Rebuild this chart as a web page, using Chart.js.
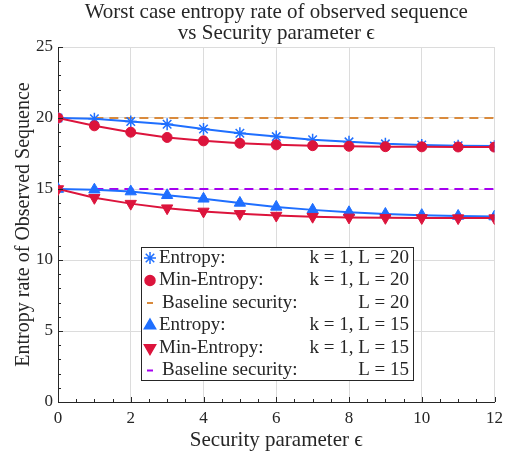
<!DOCTYPE html>
<html>
<head>
<meta charset="utf-8">
<script src="https://cdn.jsdelivr.net/npm/chart.js@4.4.1/dist/chart.umd.min.js"></script>
<style>
  html, body { margin: 0; padding: 0; background: #fff; }
  #wrap { width: 509px; height: 456px; }
</style>
</head>
<body>
<div id="wrap"><canvas id="entropyChart" width="509" height="456"></canvas></div>
<script>
// values
const eps = [0, 1, 2, 3, 4, 5, 6, 7, 8, 9, 10, 11, 12];
const entropy20 = [20, 19.95, 19.75, 19.56, 19.22, 18.93, 18.69, 18.47, 18.32, 18.18, 18.10, 18.05, 18.02];
const minEntropy20 = [20, 19.45, 19.0, 18.63, 18.39, 18.22, 18.11, 18.05, 18.01, 17.98, 17.97, 17.96, 17.95];
const baseline20 = [null, 20, 20, 20, 20, 20, 20, 20, 20, 20, 20, 20, 20];
const entropy15 = [15, 14.95, 14.82, 14.56, 14.31, 14.02, 13.74, 13.53, 13.36, 13.24, 13.16, 13.10, 13.06];
const minEntropy15 = [15, 14.38, 13.97, 13.65, 13.42, 13.25, 13.13, 13.05, 13.0, 12.97, 12.96, 12.95, 12.95];
const baseline15 = [null, 15, 15, 15, 15, 15, 15, 15, 15, 15, 15, 15, 15];

const legendNames = ['Entropy:', 'Min-Entropy:', 'Baseline security:', 'Entropy:', 'Min-Entropy:', 'Baseline security:'];
const legendParams = ['k = 1, L = 20', 'k = 1, L = 20', 'L = 20', 'k = 1, L = 15', 'k = 1, L = 15', 'L = 15'];

const titleLines = ['Worst case entropy rate of observed sequence', 'vs Security parameter \u03F5'];
const xTitle = 'Security parameter \u03F5';
const yTitle = 'Entropy rate of Observed Sequence';

const BLUE = '#1f6fff';
const RED = '#dc143c';
const ORANGE = '#d98a3c';
const PURPLE = '#a600f0';
const TEXT = '#262626';
const SERIF = '"Liberation Serif", "DejaVu Serif", serif';

function pts(ys) {
    return eps.map((x, i) => ({ x: x, y: ys[i] }));
}

// legend entries, in the same order as legendNames
const legendStyle = [
    { type: 'point', style: 'star', color: BLUE, r: 6 },
    { type: 'point', style: 'circle', color: RED, r: 5 },
    { type: 'dash', color: ORANGE },
    { type: 'point', style: 'triangle', color: BLUE, r: 6.5, rot: 0 },
    { type: 'point', style: 'triangle', color: RED, r: 6.5, rot: 180 },
    { type: 'dash', color: PURPLE }
];

// title centred over the plot area (not the whole canvas)
const plotTitle = {
    id: 'plotTitle',
    afterDraw(chart) {
        const ctx = chart.ctx;
        const cx = (chart.chartArea.left + chart.chartArea.right) / 2;
        ctx.save();
        ctx.font = '21px ' + SERIF;
        ctx.fillStyle = TEXT;
        ctx.textAlign = 'center';
        ctx.textBaseline = 'alphabetic';
        ctx.fillText(titleLines[0], cx, 18);
        ctx.fillText(titleLines[1], cx, 39);
        ctx.restore();
    }
};

// inward major/minor ticks like the original figure
const innerTicks = {
    id: 'innerTicks',
    afterDatasetsDraw(chart) {
        const ctx = chart.ctx;
        const xs = chart.scales.x, ys = chart.scales.y;
        const bottom = chart.chartArea.bottom, left = chart.chartArea.left;
        ctx.save();
        ctx.strokeStyle = TEXT;
        ctx.lineWidth = 1;
        ctx.beginPath();
        for (let v = 0; v <= 12; v += 0.5) {
            const px = Math.round(xs.getPixelForValue(v)) + 0.5;
            const len = (v % 2 === 0) ? 5 : 3;
            ctx.moveTo(px, bottom);
            ctx.lineTo(px, bottom - len);
        }
        for (let v = 0; v <= 25; v += 1) {
            const py = Math.round(ys.getPixelForValue(v)) + 0.5;
            const len = (v % 5 === 0) ? 5 : 3;
            ctx.moveTo(left, py);
            ctx.lineTo(left + len, py);
        }
        ctx.stroke();
        ctx.restore();
    }
};

// boxed legend with two text columns
const boxLegend = {
    id: 'boxLegend',
    afterDraw(chart) {
        const ctx = chart.ctx;
        const bx = 141, by = 247, bw = 272, bh = 133;
        const rowH = 22.5, row0 = by + 11;
        ctx.save();
        ctx.fillStyle = '#fff';
        ctx.fillRect(bx, by, bw, bh);
        ctx.strokeStyle = TEXT;
        ctx.lineWidth = 1;
        ctx.strokeRect(bx + 0.5, by + 0.5, bw, bh);
        ctx.font = '19px ' + SERIF;
        ctx.textBaseline = 'middle';
        for (let i = 0; i < legendNames.length; i++) {
            const y = row0 + i * rowH;
            const s = legendStyle[i];
            if (s.type === 'dash') {
                ctx.strokeStyle = s.color;
                ctx.lineWidth = 2;
                ctx.beginPath();
                ctx.moveTo(147, y);
                ctx.lineTo(153, y);
                ctx.stroke();
            } else {
                ctx.fillStyle = s.color;
                ctx.strokeStyle = s.color;
                ctx.lineWidth = 1.5;
                Chart.helpers.drawPoint(ctx, {
                    pointStyle: s.style, radius: s.r, rotation: s.rot || 0,
                    borderWidth: 1.5
                }, 150, y);
            }
            ctx.fillStyle = TEXT;
            ctx.textAlign = 'left';
            const nameX = (s.type === 'dash') ? 162 : 159;
            ctx.fillText(legendNames[i], nameX, y);
            ctx.textAlign = 'right';
            ctx.fillText(legendParams[i], 409, y);
        }
        ctx.restore();
    }
};

const ctx1 = document.getElementById('entropyChart').getContext('2d');
const entropyChart = new Chart(ctx1, {
    type: 'line',
    data: {
        datasets: [
            {
                label: 'Entropy L=20', data: pts(entropy20),
                borderColor: BLUE, backgroundColor: BLUE, borderWidth: 2,
                pointStyle: 'star', pointRadius: 6, pointBorderWidth: 1.5, order: 4
            },
            {
                label: 'Min-Entropy L=20', data: pts(minEntropy20),
                borderColor: RED, backgroundColor: RED, borderWidth: 2,
                pointStyle: 'circle', pointRadius: 5, pointBorderWidth: 1, order: 3
            },
            {
                label: 'Baseline L=20', data: pts(baseline20),
                borderColor: ORANGE, borderWidth: 2, borderDash: [9, 6],
                pointRadius: 0, order: 5
            },
            {
                label: 'Entropy L=15', data: pts(entropy15),
                borderColor: BLUE, backgroundColor: BLUE, borderWidth: 2,
                pointStyle: 'triangle', pointRadius: 6.5, pointBorderWidth: 1, order: 2
            },
            {
                label: 'Min-Entropy L=15', data: pts(minEntropy15),
                borderColor: RED, backgroundColor: RED, borderWidth: 2,
                pointStyle: 'triangle', pointRotation: 180, pointRadius: 6.5, pointBorderWidth: 1, order: 1
            },
            {
                label: 'Baseline L=15', data: pts(baseline15),
                borderColor: PURPLE, borderWidth: 2, borderDash: [9, 6],
                pointRadius: 0, order: 6
            }
        ]
    },
    options: {
        animation: false,
        responsive: false,
        maintainAspectRatio: false,
        spanGaps: false,
        layout: { padding: { top: 47, right: 12, bottom: 0, left: 0 } },
        plugins: {
            legend: { display: false },
            tooltip: { enabled: false },
            title: { display: false }
        },
        scales: {
            x: {
                type: 'linear',
                min: 0, max: 12,
                afterFit(scale) { scale.height = 54; },
                ticks: {
                    stepSize: 2, color: TEXT, padding: 6,
                    font: { family: SERIF, size: 17 }, maxRotation: 0
                },
                grid: { color: '#dcdcdc', drawTicks: false, lineWidth: 1 },
                border: { color: TEXT, width: 1 },
                title: {
                    display: true, text: xTitle, color: TEXT,
                    font: { family: SERIF, size: 21 }, padding: { top: 0, bottom: 3 }
                }
            },
            y: {
                min: 0, max: 25,
                afterFit(scale) { scale.width = 58; },
                ticks: {
                    stepSize: 5, color: TEXT, padding: 5,
                    font: { family: SERIF, size: 17 }
                },
                grid: { color: '#dcdcdc', drawTicks: false, lineWidth: 1 },
                border: { color: TEXT, width: 1 },
                title: {
                    display: true, text: yTitle, color: TEXT,
                    font: { family: SERIF, size: 20 }, padding: { top: 12, bottom: 0 }
                }
            }
        }
    },
    plugins: [innerTicks, boxLegend, plotTitle]
});
</script>
</body>
</html>
